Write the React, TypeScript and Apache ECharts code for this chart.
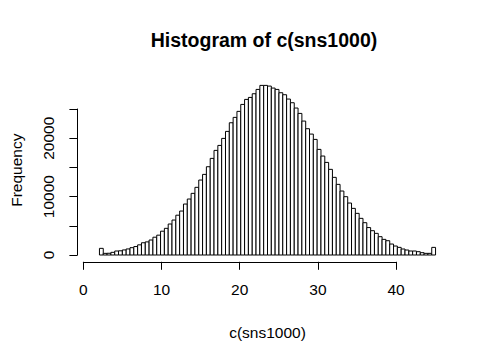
import React, { useEffect, useRef } from "react";
import * as echarts from "echarts";

// Histogram of c(sns1000): bins of width 0.5 starting at 1
const binStart = 1;
const binWidth = 0.5;
const counts = [
  1140, 285, 300, 460, 685, 720, 870, 1040, 1255, 1450,
  1740, 2100, 2250, 2570, 3050, 3400, 4080, 4570, 5310, 5990,
  6820, 7530, 8730, 9590, 10560, 11590, 12840, 13810, 15120, 16550,
  17920, 18770, 19970, 21170, 22650, 23570, 24600, 25790, 26650, 26990,
  27620, 28360, 29050, 29050, 28930, 28590, 28360, 27790, 27450, 26710,
  26080, 25170, 24250, 22940, 21630, 20710, 19800, 18090, 16950, 15860,
  14670, 13300, 12100, 10960, 9990, 8900, 7990, 7135, 6280, 5535,
  4700, 4165, 3710, 3140, 2680, 2450, 1880, 1540, 1310, 1030,
  855, 685, 685, 570, 400, 285, 285, 1310,
];
const xTicks = [0, 10, 20, 30, 40];
const yTicks = [0, 5000, 10000, 15000, 20000, 25000];
const yLabelled = [0, 10000, 20000];

const titleText = "Histogram of c(sns1000)";
const xName = "c(sns1000)";
const yName = "Frequency";

const FONT = "Liberation Sans, Arial, sans-serif";

export default function App() {
  const ref = useRef<HTMLDivElement>(null);
  useEffect(() => {
    document.body.style.margin = "0";
    if (!ref.current) return;
    const chart = echarts.init(ref.current, null, { renderer: "svg" });
    const data = counts.map((c, i) => [binStart + i * binWidth, binStart + (i + 1) * binWidth, c]);
    const xMinData = binStart;
    const xMaxData = binStart + counts.length * binWidth;
    const yMaxData = Math.max(...counts);
    const xPad = (xMaxData - xMinData) * 0.04;
    const yPad = yMaxData * 0.04;

    const gTop = 78.6, gH = 183.2, gLeft = 77.4, gW = 371.6;

    chart.setOption({
      animation: false,
      backgroundColor: "#fff",
      title: {
        text: titleText,
        left: 259,
        top: 25,
        textAlign: "center",
        textStyle: { fontFamily: FONT, fontSize: 19.5, fontWeight: "bold", color: "#000" },
      },
      grid: [
        { left: gLeft, top: gTop, width: gW, height: gH },
        { left: 83.3, top: gTop, width: 312.8, height: gH },
        { left: gLeft, top: 109, width: gW, height: 146 },
      ],
      xAxis: [
        {
          gridIndex: 0, type: "value", min: xMinData - xPad, max: xMaxData + xPad,
          axisLine: { show: false }, axisTick: { show: false }, axisLabel: { show: false },
          splitLine: { show: false },
          name: xName, nameLocation: "middle", nameGap: 63,
          nameTextStyle: { fontFamily: FONT, fontSize: 15.5, color: "#000" },
        },
        {
          gridIndex: 1, type: "value", min: xTicks[0], max: xTicks[xTicks.length - 1], interval: 10,
          axisLine: { show: true, onZero: false, lineStyle: { color: "#000", width: 1 } },
          axisTick: { show: true, length: 8, lineStyle: { color: "#000" } },
          axisLabel: { show: true, margin: 20, fontFamily: FONT, fontSize: 15.5, color: "#000" },
          splitLine: { show: false },
        },
        { gridIndex: 2, type: "value", show: false, min: 0, max: 1 },
      ],
      yAxis: [
        {
          gridIndex: 0, type: "value", min: -yPad, max: yMaxData + yPad,
          axisLine: { show: false }, axisTick: { show: false }, axisLabel: { show: false },
          splitLine: { show: false },
          name: yName, nameLocation: "middle", nameGap: 62, nameRotate: 90,
          nameTextStyle: { fontFamily: FONT, fontSize: 15.5, color: "#000" },
        },
        { gridIndex: 1, type: "value", show: false, min: 0, max: 1 },
        {
          gridIndex: 2, type: "value", min: yTicks[0], max: yTicks[yTicks.length - 1], interval: 5000,
          axisLine: { show: true, onZero: false, lineStyle: { color: "#000", width: 1 } },
          axisTick: { show: true, length: 8, lineStyle: { color: "#000" } },
          axisLabel: {
            show: true, rotate: 90, margin: 21, fontFamily: FONT, fontSize: 15.5, color: "#000",
            formatter: (v: number) => (yLabelled.includes(v) ? String(v) : ""),
          },
          splitLine: { show: false },
        },
      ],
      series: [
        {
          type: "custom",
          xAxisIndex: 0,
          yAxisIndex: 0,
          data,
          encode: { x: [0, 1], y: 2 },
          renderItem: (params: any, api: any) => {
            const x0 = api.value(0), x1 = api.value(1), y = api.value(2);
            const p0 = api.coord([x0, y]);
            const p1 = api.coord([x1, 0]);
            return {
              type: "rect",
              shape: { x: p0[0], y: p0[1], width: p1[0] - p0[0], height: p1[1] - p0[1] },
              style: { fill: "#fff", stroke: "#000", lineWidth: 1 },
            };
          },
        },
      ],
    });
    return () => chart.dispose();
  }, []);
  return <div ref={ref} style={{ width: 490, height: 360 }} />;
}
